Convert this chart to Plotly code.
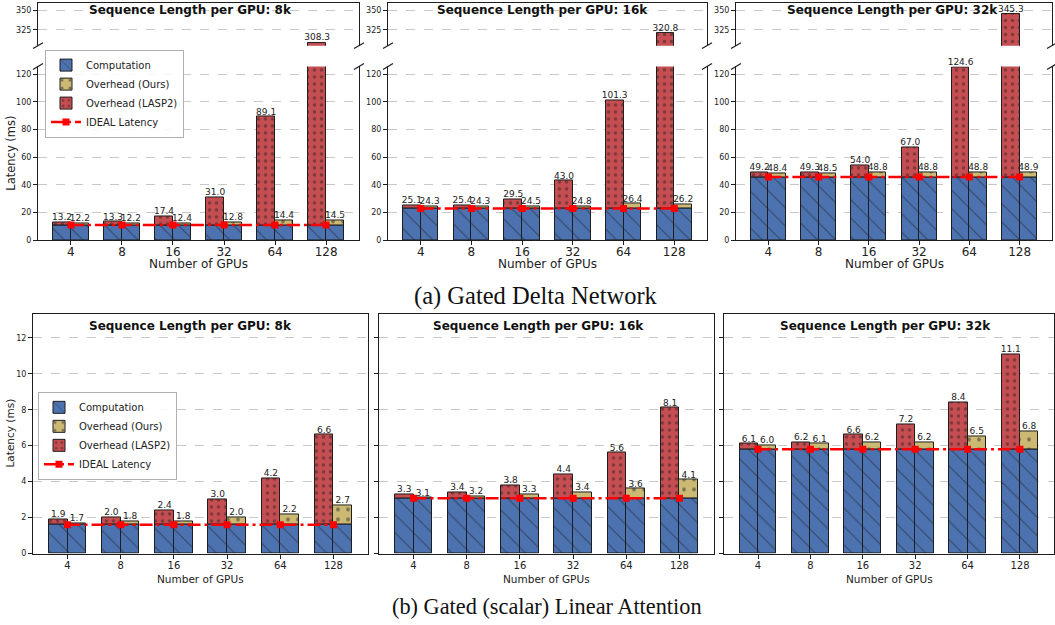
import plotly.graph_objects as go

# ---------------- data ----------------
gpu_labels = ["4", "8", "16", "32", "64", "128"]
panel_titles = ["Sequence Length per GPU: 8k", "Sequence Length per GPU: 16k", "Sequence Length per GPU: 32k"]

# (a) Gated Delta Network – total latency (ms)
gdn_8k_lasp2 = [13.2, 13.3, 17.4, 31.0, 89.1, 308.3]
gdn_8k_ours = [12.2, 12.2, 12.4, 12.8, 14.4, 14.5]
gdn_16k_lasp2 = [25.1, 25.4, 29.5, 43.0, 101.3, 320.8]
gdn_16k_ours = [24.3, 24.3, 24.5, 24.8, 26.4, 26.2]
gdn_32k_lasp2 = [49.2, 49.3, 54.0, 67.0, 124.6, 345.3]
gdn_32k_ours = [48.4, 48.5, 48.8, 48.8, 48.8, 48.9]
gdn_comp = [11.0, 23.0, 45.7]  # computation == ideal latency

# (b) Gated (scalar) Linear Attention – total latency (ms)
gla_8k_lasp2 = [1.9, 2.0, 2.4, 3.0, 4.2, 6.6]
gla_8k_ours = [1.7, 1.8, 1.8, 2.0, 2.2, 2.7]
gla_16k_lasp2 = [3.3, 3.4, 3.8, 4.4, 5.6, 8.1]
gla_16k_ours = [3.1, 3.2, 3.3, 3.4, 3.6, 4.1]
gla_32k_lasp2 = [6.1, 6.2, 6.6, 7.2, 8.4, 11.1]
gla_32k_ours = [6.0, 6.1, 6.2, 6.2, 6.5, 6.8]
gla_comp = [1.6, 3.08, 5.8]

top_lower_ticks = [0, 20, 40, 60, 80, 100, 120]
top_upper_ticks = [325, 350]
bot_ticks = [0, 2, 4, 6, 8, 10, 12]

# ---------------- style / geometry ----------------
W, H = 1055, 625
C_COMP, C_OURS, C_LASP = "#4C72B0", "#CCB974", "#C44E52"
EDGE = "#1e1e1e"
FONT = "DejaVu Sans"


def px(x):
    return x / W


def py(y):
    return 1 - y / H


top_x = [(38, 359), (388, 707), (736, 1052)]
top_title_cx = [190, 542, 892]
top_upper_y = (3, 46)
top_lower_y = (67, 242.3)
bot_x = [(33, 368), (379, 714), (724, 1054)]
bot_title_cx = [190, 539, 885]
bot_y = (317, 558)
BAR_W = 0.35
top_xrange = [-0.645, 5.645]
bot_xrange = [-0.65, 5.65]
top_lower_range = [0, 125.5]
top_upper_range = [304.5, 360]
bot_range = [0, 13.3]
SPLIT = top_lower_range[1]

fig = go.Figure()


def axname(letter, n):
    return letter if n == 1 else f"{letter}{n}"


def add_panel(n, lasp, ours, comp, show_legend, legend_name, label_rule, label_size):
    xa, ya = axname("x", n), axname("y", n)
    idx = list(range(len(gpu_labels)))
    xl = [i - BAR_W / 2 for i in idx]
    xr = [i + BAR_W / 2 for i in idx]
    comp_vals = [comp] * len(idx)
    line = dict(color=EDGE, width=1)
    comp_marker = dict(color=C_COMP, line=line,
                       pattern=dict(shape="\\", fgcolor="#1a1a1a", size=13, solidity=0.08, fillmode="overlay"))
    fig.add_trace(go.Bar(x=xl, y=comp_vals, width=BAR_W, name="Computation", marker=comp_marker,
                         xaxis=xa, yaxis=ya, showlegend=show_legend, legend=legend_name, hoverinfo="skip"))
    fig.add_trace(go.Bar(x=xr, y=comp_vals, width=BAR_W, name="Computation", marker=comp_marker,
                         xaxis=xa, yaxis=ya, showlegend=False, legend=legend_name, hoverinfo="skip"))
    fig.add_trace(go.Bar(x=xr, y=[o - comp for o in ours], base=comp_vals, width=BAR_W, name="Overhead (Ours)",
                         marker=dict(color=C_OURS, line=line,
                                     pattern=dict(shape=".", fgcolor="#2a2a2a", size=10, solidity=0.12,
                                                  fillmode="overlay")),
                         xaxis=xa, yaxis=ya, showlegend=show_legend, legend=legend_name, hoverinfo="skip"))
    fig.add_trace(go.Bar(x=xl, y=[v - comp for v in lasp], base=comp_vals, width=BAR_W, name="Overhead (LASP2)",
                         marker=dict(color=C_LASP, line=line,
                                     pattern=dict(shape=".", fgcolor="#3a1f1f", size=7, solidity=0.2,
                                                  fillmode="overlay")),
                         xaxis=xa, yaxis=ya, showlegend=show_legend, legend=legend_name, hoverinfo="skip"))
    fig.add_trace(go.Scatter(x=idx, y=comp_vals, mode="lines+markers", name="IDEAL Latency",
                             line=dict(color="#ff0000", width=2.5, dash="13px,4px,3px,4px"),
                             marker=dict(symbol="square", size=7, color="#ff0000"),
                             xaxis=xa, yaxis=ya, showlegend=show_legend, legend=legend_name, hoverinfo="skip"))
    lx, ly, lt = [], [], []
    for xs, vals in ((xl, lasp), (xr, ours)):
        for x, v in zip(xs, vals):
            if label_rule(v):
                lx.append(x)
                ly.append(v)
                lt.append(f"{v:.1f}")
    if lx:
        fig.add_trace(go.Scatter(x=lx, y=ly, text=lt, mode="text", textposition="top center",
                                 textfont=dict(size=label_size, color="#222", family=FONT),
                                 xaxis=xa, yaxis=ya, showlegend=False, hoverinfo="skip", cliponaxis=False))


top_data = [(gdn_8k_lasp2, gdn_8k_ours), (gdn_16k_lasp2, gdn_16k_ours), (gdn_32k_lasp2, gdn_32k_ours)]
bot_data = [(gla_8k_lasp2, gla_8k_ours), (gla_16k_lasp2, gla_16k_ours), (gla_32k_lasp2, gla_32k_ours)]

layout_axes = {}
shapes = []
annotations = []

axis_common = dict(linecolor=EDGE, linewidth=1.1, ticklen=4, tickwidth=1, tickcolor=EDGE,
                   zeroline=False, fixedrange=True)
grid = dict(showgrid=True, gridcolor="#c8c8c8", gridwidth=0.8, griddash="dash")

for j in range(3):
    lasp, ours = top_data[j]
    n_low, n_up = 2 * j + 1, 2 * j + 2
    first = j == 0
    add_panel(n_low, lasp, ours, gdn_comp[j], first, "legend", lambda v: v <= SPLIT, 9)
    add_panel(n_up, lasp, ours, gdn_comp[j], False, "legend", lambda v: v > SPLIT, 9)
    x0, x1 = top_x[j]
    layout_axes[axname("xaxis", n_low)] = dict(
        domain=[px(x0), px(x1)], range=top_xrange, anchor=axname("y", n_low), showline=True, mirror=False,
        ticks="outside", tickvals=list(range(6)), ticktext=gpu_labels, tickfont=dict(size=12, color="#222"),
        ticklabelstandoff=-4, showgrid=False, **axis_common)
    layout_axes[axname("yaxis", n_low)] = dict(
        domain=[py(top_lower_y[1]), py(top_lower_y[0])], range=top_lower_range, anchor=axname("x", n_low),
        showline=True, mirror=True, ticks="outside", tickvals=top_lower_ticks, tickfont=dict(size=8, color="#222"),
        **grid, **axis_common)
    layout_axes[axname("xaxis", n_up)] = dict(
        domain=[px(x0), px(x1)], range=top_xrange, anchor=axname("y", n_up), side="top", showline=True,
        mirror=False, showticklabels=False, showgrid=False, ticks="", **axis_common)
    layout_axes[axname("yaxis", n_up)] = dict(
        domain=[py(top_upper_y[1]), py(top_upper_y[0])], range=top_upper_range, anchor=axname("x", n_up),
        showline=True, mirror=True, ticks="outside", tickvals=top_upper_ticks, tickfont=dict(size=8, color="#222"),
        **grid, **axis_common)
    # break marks
    for xe in (x0, x1):
        for ye in (top_upper_y[1], top_lower_y[0]):
            shapes.append(dict(type="line", xref="paper", yref="paper",
                               x0=px(xe - 5), y0=py(ye + 3), x1=px(xe + 5), y1=py(ye - 3),
                               line=dict(color=EDGE, width=1.2)))
    cx = (x0 + x1) / 2
    annotations.append(dict(text=f"<b>{panel_titles[j]}</b>", x=px(top_title_cx[j]), y=py(10), xref="paper",
                            yref="paper", showarrow=False, font=dict(size=12, color="#111"),
                            xanchor="center", yanchor="middle"))
    annotations.append(dict(text="Number of GPUs", x=px(cx), y=py(266), xref="paper", yref="paper",
                            showarrow=False, font=dict(size=12, color="#222"), xanchor="center", yanchor="middle"))

for j in range(3):
    lasp, ours = bot_data[j]
    n = 7 + j
    add_panel(n, lasp, ours, gla_comp[j], j == 0, "legend2", lambda v: True, 9)
    x0, x1 = bot_x[j]
    layout_axes[axname("xaxis", n)] = dict(
        domain=[px(x0), px(x1)], range=bot_xrange, anchor=axname("y", n), showline=True, mirror=True,
        ticks="outside", tickvals=list(range(6)), ticktext=gpu_labels, tickfont=dict(size=10, color="#222"),
        ticklabelstandoff=-2, showgrid=False, **axis_common)
    layout_axes[axname("yaxis", n)] = dict(
        domain=[py(bot_y[1]), py(bot_y[0])], range=bot_range, anchor=axname("x", n), showline=True, mirror=True,
        ticks="outside", tickvals=bot_ticks, showticklabels=(j == 0), tickfont=dict(size=8, color="#222"),
        **grid, **axis_common)
    cx = (x0 + x1) / 2
    annotations.append(dict(text=f"<b>{panel_titles[j]}</b>", x=px(bot_title_cx[j]), y=py(329), xref="paper",
                            yref="paper", showarrow=False, font=dict(size=12, color="#111"),
                            xanchor="center", yanchor="middle"))
    annotations.append(dict(text="Number of GPUs", x=px(cx), y=py(584), xref="paper", yref="paper",
                            showarrow=False, font=dict(size=10.5, color="#222"), xanchor="center", yanchor="middle"))

annotations.append(dict(text="Latency (ms)", x=px(11), y=py(155), xref="paper", yref="paper", textangle=-90,
                        showarrow=False, font=dict(size=11.5, color="#222"), xanchor="center", yanchor="middle"))
annotations.append(dict(text="Latency (ms)", x=px(10), y=py(437), xref="paper", yref="paper", textangle=-90,
                        showarrow=False, font=dict(size=10.5, color="#222"), xanchor="center", yanchor="middle"))
annotations.append(dict(text="(a) Gated Delta Network", x=px(536), y=py(298), xref="paper", yref="paper",
                        showarrow=False, font=dict(size=24.5, family="Liberation Serif", color="#111"),
                        xanchor="center", yanchor="middle"))
annotations.append(dict(text="(b) Gated (scalar) Linear Attention", x=px(547), y=py(611), xref="paper", yref="paper",
                        showarrow=False, font=dict(size=22.3, family="Liberation Serif", color="#111"),
                        xanchor="center", yanchor="middle"))

legend_style = dict(xanchor="left", yanchor="top", bgcolor="rgba(255,255,255,0.85)", bordercolor="#b0b0b0",
                    borderwidth=1, font=dict(size=10, color="#222", family=FONT), tracegroupgap=0,
                    itemwidth=30, traceorder="normal")

fig.update_layout(
    width=W, height=H, autosize=False,
    margin=dict(l=0, r=0, t=0, b=0),
    paper_bgcolor="white", plot_bgcolor="white",
    font=dict(family=FONT, color="#222"),
    barmode="overlay", bargap=0,
    legend=dict(x=px(45), y=py(50), **legend_style),
    legend2=dict(x=px(38), y=py(395), **legend_style),
    shapes=shapes, annotations=annotations,
    **layout_axes,
)

fig.write_html("out.html", config={"displayModeBar": False},
               post_script="document.body.style.margin='0px'; document.body.style.overflow='hidden';")
